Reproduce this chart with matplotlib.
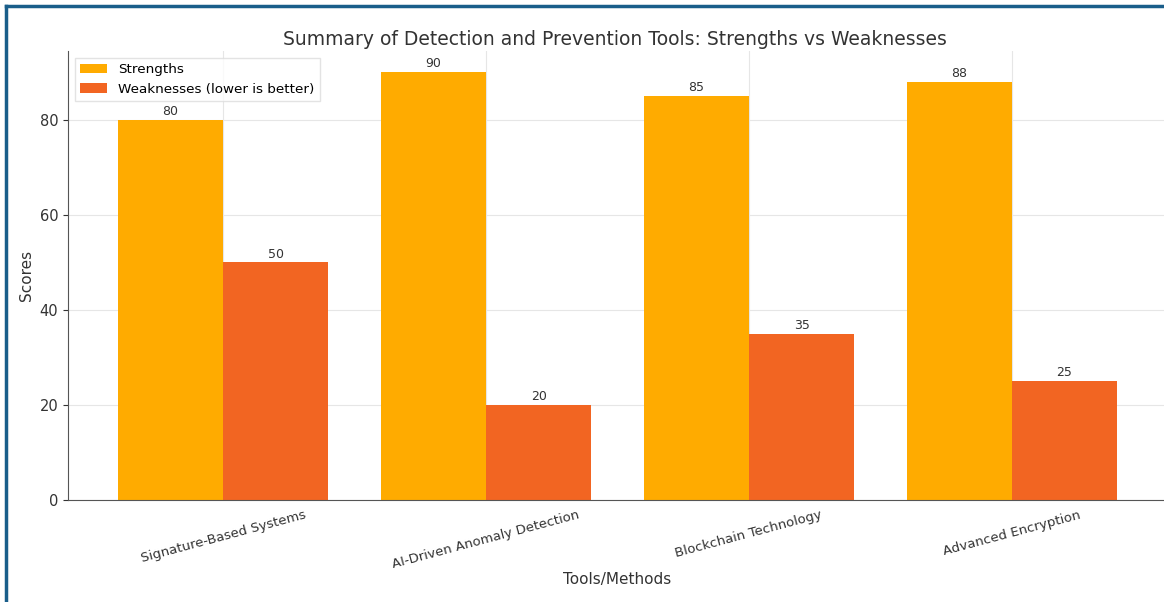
import matplotlib
matplotlib.use("Agg")
import matplotlib.pyplot as plt
import numpy as np
from matplotlib.lines import Line2D

# data
tools = ["Signature-Based Systems", "AI-Driven Anomaly Detection",
         "Blockchain Technology", "Advanced Encryption"]
strengths = [80, 90, 85, 88]
weaknesses = [50, 20, 35, 25]

STRENGTH_COL = "#FFAB00"
WEAK_COL = "#F26522"

fig = plt.figure(figsize=(11.64, 6.02), dpi=100)
ax = fig.add_axes([68 / 1164, 1 - 500 / 602, (1167 - 68) / 1164, (500 - 51) / 602])

x = np.arange(len(tools))
w = 0.4
b1 = ax.bar(x - w / 2, strengths, w, color=STRENGTH_COL, label="Strengths", zorder=2)
b2 = ax.bar(x + w / 2, weaknesses, w, color=WEAK_COL,
            label="Weaknesses (lower is better)", zorder=2)

for bars in (b1, b2):
    for r in bars:
        ax.text(r.get_x() + r.get_width() / 2, r.get_height() + 0.4, f"{r.get_height():g}",
                ha="center", va="bottom", fontsize=9, color="#333333")

ax.set_xticks(x)
ax.set_xticklabels(tools, rotation=15, ha="center", fontsize=9.5, color="#333333")
ax.set_ylim(0, 94.5)
ax.set_xlim(-0.59, 3.59)
ax.set_yticks([0, 20, 40, 60, 80])
ax.tick_params(axis="y", labelsize=10.5, colors="#333333")
ax.tick_params(axis="x", length=0, pad=6)

ax.grid(True, color="#e6e6e6", linewidth=0.8, zorder=0)
ax.set_axisbelow(True)
for s in ("top", "right"):
    ax.spines[s].set_visible(False)
for s in ("left", "bottom"):
    ax.spines[s].set_color("#555555")

ax.set_xlabel("Tools/Methods", fontsize=11, color="#333333", labelpad=1)
ax.set_ylabel("Scores", fontsize=11, color="#333333")
ax.set_title("Summary of Detection and Prevention Tools: Strengths vs Weaknesses",
             fontsize=13.5, color="#333333", pad=4)
ax.title.set_position((547 / 1099, 1.0))

ax.legend(loc="upper left", fontsize=9.7, frameon=True, edgecolor="#dddddd",
          fancybox=False, borderaxespad=0.5)

# blue frame on the left and top edge of the picture
fig.add_artist(Line2D([6 / 1164, 6 / 1164], [0, 1 - 6 / 602], color="#1a5e8a", linewidth=2.5))
fig.add_artist(Line2D([6 / 1164, 1], [1 - 6 / 602, 1 - 6 / 602], color="#1a5e8a", linewidth=2.5))

fig.savefig("out.png", dpi=100)
